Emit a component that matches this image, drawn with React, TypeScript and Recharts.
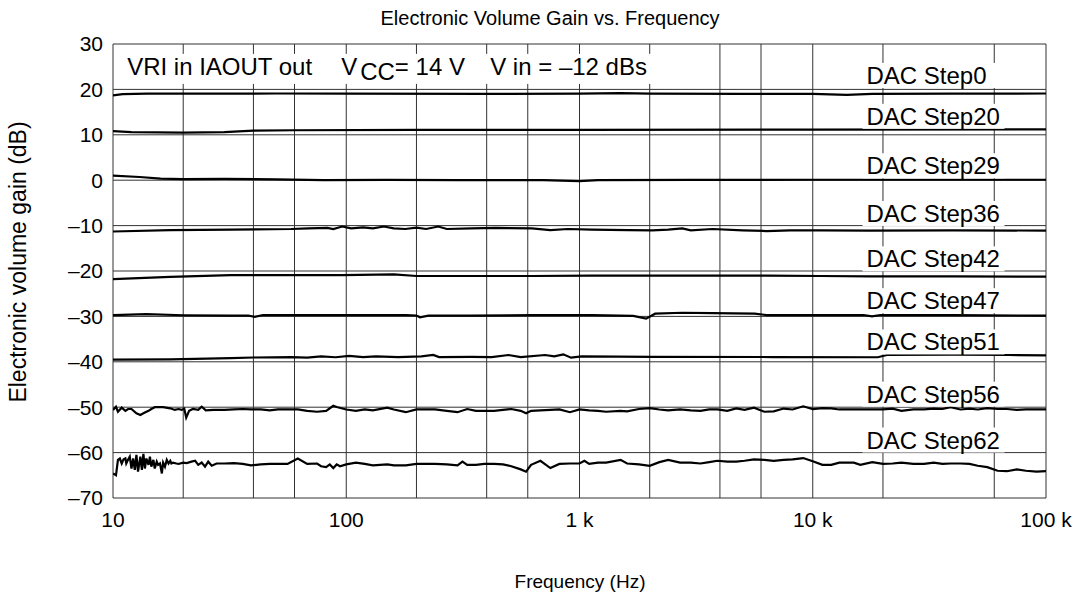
import { LineChart, Line, XAxis, YAxis, CartesianGrid, ReferenceDot, Customized } from 'recharts'

type Pt = [number, number]

const xTicks = [10, 100, 1000, 10000, 100000]
const xTickLabels = ['10', '100', '1 k', '10 k', '100 k']
const gridFreqs = [
  10, 20, 40, 60, 80, 100, 200, 400, 600, 800, 1000, 2000, 4000, 6000, 8000,
  10000, 20000, 40000, 60000, 80000, 100000,
]
const yTicks = [30, 20, 10, 0, -10, -20, -30, -40, -50, -60, -70]

const step0: Pt[] = [
  [10, 18.7], [11, 18.95], [14, 19.05], [20, 19.05], [50, 19.1], [100, 19.05], [400, 19.0],
  [1000, 19.05], [1500, 19.2], [2000, 19.05], [5000, 19.0], [10000, 19.0], [14000, 18.8],
  [18000, 19.0], [40000, 19.05], [100000, 19.1],
]
const step20: Pt[] = [
  [10, 10.8], [12, 10.6], [20, 10.5], [30, 10.6], [40, 10.9], [60, 11.0], [200, 11.1],
  [1000, 11.1], [10000, 11.15], [100000, 11.2],
]
const step29: Pt[] = [
  [10, 1.0], [13, 0.7], [16, 0.35], [20, 0.25], [30, 0.3], [50, 0.2], [80, 0.0], [150, 0.05],
  [300, 0.0], [700, 0.0], [1000, -0.2], [1200, 0.0], [3000, 0.05], [10000, 0.1], [100000, 0.1],
]
const step36: Pt[] = [
  [10, -11.3], [17.6, -11.0], [32, -10.9], [58, -10.75], [69, -10.6], [83, -10.5], [88, -10.75],
  [96, -10.2], [105, -10.6], [118, -10.4], [130, -10.6], [145, -10.2], [160, -10.6], [179, -10.75],
  [200, -10.45], [220, -10.75], [248, -10.2], [270, -10.75], [344, -10.6], [437, -10.5], [624, -10.6],
  [750, -11.0], [891, -10.75], [1130, -10.9], [1616, -11.0], [2050, -11.05], [2400, -10.9],
  [2760, -10.6], [3000, -11.05], [3715, -10.75], [5000, -11.05], [6340, -11.2], [8000, -11.05],
  [10830, -11.05], [17420, -11.1], [40090, -11.05], [100000, -11.1],
]
const step42: Pt[] = [
  [10, -21.8], [17.6, -21.3], [32, -20.9], [58, -20.9], [96, -20.9], [160, -20.75], [200, -21.1],
  [344, -21.1], [624, -21.1], [1130, -21.0], [2050, -21.0], [3715, -21.0], [6340, -21.0],
  [10830, -21.1], [17420, -21.2], [40090, -21.2], [100000, -21.25],
]
const step47: Pt[] = [
  [10, -29.7], [13.9, -29.5], [20, -29.75], [32, -29.85], [38, -29.8], [40.5, -30.1], [44, -29.7],
  [96, -29.7], [180, -29.7], [200, -29.8], [207, -30.2], [225, -29.85], [344, -29.85], [624, -29.7],
  [1130, -29.7], [1700, -29.9], [1930, -30.5], [2110, -29.4], [2760, -29.2], [3715, -29.3],
  [5640, -29.4], [6340, -29.7], [10830, -29.7], [16500, -29.7], [17950, -30.0], [19500, -29.7],
  [40090, -29.7], [100000, -29.85],
]
const step51: Pt[] = [
  [10, -39.5], [17.6, -39.45], [32, -39.2], [40, -39.05], [58, -38.95], [68, -39.1], [78, -38.8],
  [90, -39.0], [103, -38.7], [118, -38.95], [134, -38.8], [167, -38.95], [210, -38.8], [236, -38.5],
  [250, -38.95], [344, -38.9], [420, -38.95], [496, -38.5], [560, -38.95], [712, -38.5], [780, -38.8],
  [852, -38.35], [920, -39.1], [1020, -38.8], [2050, -38.9], [6720, -38.95], [19000, -39.0],
  [20800, -38.5], [40000, -38.45], [69000, -38.5], [100000, -38.6],
]
const step56: Pt[] = [
  [10, -50.6], [10.3, -49.9], [10.5, -51.0], [10.9, -50.1], [11.3, -50.8], [11.6, -50.4],
  [12.0, -50.4], [12.6, -51.35], [13.1, -51.7], [13.5, -51.35], [14.2, -50.8], [14.6, -50.4],
  [15.1, -50.0], [16.4, -50.0], [17.6, -50.25], [18.4, -50.6], [19.1, -50.4], [19.7, -50.6],
  [20.2, -50.3], [20.6, -52.3], [21.2, -50.8], [22, -50.4], [23.2, -50.6], [24, -49.9], [25, -50.7],
  [27, -50.6], [30, -50.6], [33, -50.5], [36, -50.4], [39, -50.5], [43, -50.5], [47, -50.7],
  [51, -50.5], [56, -50.5], [62, -50.5], [68, -50.8], [75, -51.0], [82, -50.8], [88, -49.7],
  [91, -49.95], [100, -50.5], [110, -50.8], [120, -50.5], [130, -50.7], [150, -50.1], [160, -50.5],
  [180, -51.1], [200, -50.5], [220, -50.5], [240, -50.5], [270, -50.8], [300, -51.1], [330, -50.4],
  [360, -50.8], [390, -50.8], [430, -50.8], [470, -50.6], [510, -50.4], [560, -50.8], [590, -51.35],
  [620, -50.8], [680, -50.7], [750, -50.6], [820, -50.5], [910, -51.1], [1000, -50.5], [1100, -50.7],
  [1200, -50.8], [1300, -51.0], [1500, -50.8], [1600, -50.9], [1800, -50.4], [2000, -50.2],
  [2200, -50.5], [2400, -50.7], [2700, -50.5], [3000, -50.7], [3300, -50.8], [3600, -50.5],
  [3900, -50.5], [4300, -50.8], [4700, -50.25], [5100, -50.6], [5600, -50.1], [6200, -51.0],
  [6800, -50.9], [7500, -50.3], [8200, -50.5], [9100, -49.8], [10000, -50.4], [11000, -50.2],
  [12000, -50.25], [13000, -50.5], [15000, -50.5], [16000, -50.5], [18000, -50.5], [20000, -50.5],
  [22000, -50.3], [24000, -50.8], [27000, -50.5], [30000, -50.5], [33000, -50.3], [36000, -50.4],
  [39000, -50.0], [43000, -50.5], [47000, -50.3], [51000, -50.5], [56000, -50.2], [62000, -50.4],
  [68000, -50.4], [75000, -50.6], [82000, -50.5], [91000, -50.5], [100000, -50.5],
]
const step62: Pt[] = [
  [10, -64.6], [10.3, -65.0], [10.5, -61.6], [10.7, -61.3], [10.9, -62.4], [11.1, -61.5],
  [11.3, -61.3], [11.4, -62.4], [11.6, -61.6], [11.8, -60.9], [12.0, -63.5], [12.2, -61.3],
  [12.4, -63.8], [12.6, -60.5], [12.8, -64.2], [13.1, -60.9], [13.3, -63.8], [13.5, -60.3],
  [13.7, -63.5], [13.9, -61.3], [14.2, -62.7], [14.4, -60.9], [14.6, -63.1], [14.9, -61.6],
  [15.1, -63.5], [15.4, -62.0], [15.6, -62.7], [15.9, -62.4], [16.2, -64.6], [16.4, -62.2],
  [16.7, -63.1], [17.0, -61.6], [17.3, -62.4], [17.6, -61.8], [17.8, -62.4], [18.1, -62.2],
  [18.7, -62.4], [19.1, -62.5], [20, -62.2], [20.7, -62.3], [21.7, -62.0], [22.5, -61.8],
  [23.2, -62.7], [24, -62.2], [24.8, -63.1], [25.6, -62.0], [26.5, -62.9], [27.8, -62.4],
  [30, -62.4], [33, -62.3], [36, -62.5], [39, -62.8], [43, -62.6], [47, -62.5], [51, -62.5],
  [56, -62.5], [62, -61.3], [68, -62.5], [75, -62.4], [78, -63.0], [82, -63.2], [85, -62.6],
  [88, -63.4], [91, -62.6], [94, -63.0], [100, -62.6], [110, -62.2], [120, -62.5], [130, -62.8],
  [150, -62.6], [160, -62.8], [180, -62.8], [200, -62.5], [220, -62.5], [240, -62.5], [270, -62.6],
  [300, -62.8], [315, -62.0], [330, -62.7], [360, -62.7], [390, -62.5], [430, -62.5], [470, -62.6],
  [510, -63.0], [560, -63.7], [590, -64.2], [620, -62.7], [680, -61.8], [750, -63.4], [820, -62.5],
  [910, -62.4], [1000, -62.4], [1050, -61.8], [1100, -62.5], [1200, -62.2], [1300, -62.2],
  [1500, -61.6], [1600, -62.4], [1800, -62.6], [2000, -62.9], [2200, -62.1], [2400, -61.6],
  [2700, -62.2], [3000, -62.2], [3300, -62.4], [3600, -62.1], [3900, -61.8], [4300, -62.0],
  [4700, -62.0], [5100, -61.8], [5600, -61.5], [6200, -61.6], [6800, -61.8], [7500, -61.6],
  [8200, -61.5], [9100, -61.2], [10000, -61.9], [11000, -62.7], [12000, -62.7], [13000, -62.2],
  [15000, -62.2], [16000, -62.7], [18000, -62.1], [20000, -62.5], [22000, -62.4], [24000, -62.2],
  [27000, -62.5], [30000, -62.5], [33000, -62.2], [36000, -62.5], [39000, -62.4], [43000, -62.4],
  [47000, -62.5], [51000, -62.9], [56000, -63.2], [62000, -64.0], [68000, -64.1], [75000, -63.7],
  [82000, -64.0], [91000, -64.2], [100000, -64.1],
]

const series = [step0, step20, step29, step36, step42, step47, step51, step56, step62]
const seriesNames = [
  'DAC Step0', 'DAC Step20', 'DAC Step29', 'DAC Step36', 'DAC Step42',
  'DAC Step47', 'DAC Step51', 'DAC Step56', 'DAC Step62',
]
const labelFreq = 17000
const labelLevels = [21.2, 12.2, 1.3, -9.2, -19.2, -28.4, -37.5, -49.0, -59.1]
const noteAnchor: Pt = [11.5, 23.2]

const FONT = '"Liberation Sans", Arial, sans-serif'

const toRows = (pts: Pt[]) => pts.map(([f, v]) => ({ f, v }))
const fmtY = (v: number) => (v < 0 ? '\u2013' + Math.abs(v) : String(v))
const fmtX = (v: number) => xTickLabels[xTicks.indexOf(v)] ?? String(v)

const stepLabel = (text: string) => (props: any) => {
  const { cx, cy } = props
  return (
    <g>
      <rect x={cx - 4} y={cy - 21} width={142} height={25} fill="#fff" />
      <text x={cx} y={cy} fontSize={24} fontFamily={FONT} fill="#000">{text}</text>
    </g>
  )
}

const Note = (props: any) => {
  const { cx, cy } = props
  return (
    <g fontFamily={FONT} fontSize={24} fill="#000">
      <rect x={cx - 9} y={cy - 21} width={550} height={30} fill="#fff" />
      <text x={cx} y={cy}>VRI in IAOUT out</text>
      <text x={cx + 214} y={cy}>
        V<tspan dx={3} dy={5}>CC</tspan><tspan dy={-5}>= 14 V</tspan>
      </text>
      <text x={cx + 363} y={cy}>V in = {'\u2013'}12 dBs</text>
    </g>
  )
}

const Titles = () => (
  <g fontFamily={FONT} fill="#000">
    <text x={550} y={25} textAnchor="middle" fontSize={20}>Electronic Volume Gain vs. Frequency</text>
    <text x={580} y={588} textAnchor="middle" fontSize={19}>Frequency (Hz)</text>
    <text transform="translate(26 262) rotate(-90)" textAnchor="middle" fontSize={23}>
      Electronic volume gain (dB)
    </text>
  </g>
)

export default function App() {
  return (
    <div style={{ position: 'absolute', left: 0, top: 0, background: '#fff' }}>
      <LineChart
        width={1091}
        height={599}
        margin={{ top: 44, right: 45, bottom: 71, left: 43 }}
        style={{ fontFamily: FONT }}
      >
        <XAxis
          xAxisId="grid"
          dataKey="f"
          type="number"
          scale="log"
          domain={[10, 100000]}
          ticks={gridFreqs}
          allowDataOverflow
          hide
        />
        <XAxis
          dataKey="f"
          type="number"
          scale="log"
          domain={[10, 100000]}
          ticks={xTicks}
          tickFormatter={fmtX}
          allowDataOverflow
          axisLine={false}
          tickLine={false}
          tickSize={0}
          tickMargin={14}
          height={30}
          tick={{ fill: '#000', fontSize: 21 }}
          interval={0}
        />
        <YAxis
          type="number"
          domain={[-70, 30]}
          ticks={yTicks}
          tickFormatter={fmtY}
          allowDataOverflow
          axisLine={false}
          tickLine={false}
          tickSize={0}
          tickMargin={10}
          width={70}
          tick={{ fill: '#000', fontSize: 21 }}
          interval={0}
        />
        <CartesianGrid xAxisId="grid" stroke="#333" strokeWidth={1} />
        <ReferenceDot x={noteAnchor[0]} y={noteAnchor[1]} r={0} shape={Note} />
        {seriesNames.map((name, i) => (
          <ReferenceDot key={name} x={labelFreq} y={labelLevels[i]} r={0} shape={stepLabel(name)} />
        ))}
        {series.map((pts, i) => (
          <Line
            key={seriesNames[i]}
            data={toRows(pts)}
            dataKey="v"
            type="linear"
            stroke="#000"
            strokeWidth={2.2}
            dot={false}
            isAnimationActive={false}
          />
        ))}
        <Customized component={<Titles />} />
      </LineChart>
    </div>
  )
}
